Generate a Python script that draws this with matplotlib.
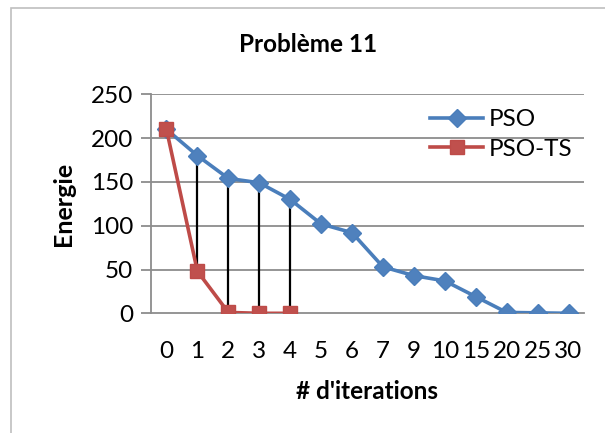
import matplotlib
matplotlib.use("Agg")
import matplotlib.pyplot as plt
from matplotlib.lines import Line2D
from matplotlib.patches import Rectangle

# Data
iterations = ["0", "1", "2", "3", "4", "5", "6", "7", "9", "10", "15", "20", "25", "30"]
pso = [210, 180, 154, 149, 130, 102, 92, 53, 43, 37, 19, 1, 0.5, 0]
pso_ts = [210, 48, 1, 0, 0]

plt.rcParams["font.family"] = ["Lato", "DejaVu Sans"]

W, H = 605, 433
fig = plt.figure(figsize=(W / 100, H / 100), dpi=100)

# chart area border
fig.patches.append(Rectangle((11 / W, -0.1), 1.2, (H - 8) / H + 0.1,
                             transform=fig.transFigure, fill=False,
                             edgecolor="#BFBFBF", linewidth=1.2))

left, right, top, bottom = 151, 584, 94.3, 313.3
ax = fig.add_axes([left / W, (H - bottom) / H, (right - left) / W, (bottom - top) / H])

blue = "#4A7EBB"
red = "#BE4B48"
grid = "#8C8C8C"

x_all = list(range(len(iterations)))
x_ts = x_all[:len(pso_ts)]

ax.set_xlim(-0.5, len(iterations) - 0.5)
ax.set_ylim(0, 250)
ax.set_yticks(range(0, 251, 50))
ax.set_xticks(x_all)
ax.set_xticklabels(iterations)

for y in range(50, 251, 50):
    ax.axhline(y, color=grid, linewidth=1.3, zorder=0)

# connectors between the two series
for xi in x_ts[1:]:
    ax.plot([xi, xi], [pso_ts[xi], pso[xi]], color="black", linewidth=1.6, zorder=2)

ax.plot(x_all, pso, color=blue, linewidth=2.6, marker="D", markersize=9.5,
        markerfacecolor="#4F81BD", markeredgecolor=blue, label="PSO", zorder=3)
ax.plot(x_ts, pso_ts, color=red, linewidth=2.6, marker="s", markersize=10,
        markerfacecolor="#C0504D", markeredgecolor=red, label="PSO-TS", zorder=4)

for s in ["top", "right"]:
    ax.spines[s].set_visible(False)
for s in ["left", "bottom"]:
    ax.spines[s].set_color(grid)
    ax.spines[s].set_linewidth(1.3)

ax.tick_params(axis="y", direction="out", length=7, width=1.3, color=grid,
               labelsize=17.5, pad=6)
ax.tick_params(axis="x", length=0, labelsize=17.5, pad=20)

ax.set_xlabel("# d'iterations", fontsize=17.5, fontweight="bold", labelpad=13)
ax.set_ylabel("Energie", fontsize=18, fontweight="bold", labelpad=11)
fig.text(0.5 * (11 + W) / W, (H - 44) / H, "Problème 11", ha="center", va="center",
         fontsize=17.5, fontweight="bold")

handles = [
    Line2D([], [], color=blue, linewidth=2.6, marker="D", markersize=9.5,
           markerfacecolor="#4F81BD", markeredgecolor=blue),
    Line2D([], [], color=red, linewidth=2.6, marker="s", markersize=10,
           markerfacecolor="#C0504D", markeredgecolor=red),
]
leg = ax.legend(handles, ["PSO", "PSO-TS"], loc="upper left",
                bbox_to_anchor=((430 - left) / (right - left), (bottom - 109) / (bottom - top)),
                frameon=False, fontsize=17.5, handlelength=2.2, handletextpad=0.2,
                labelspacing=0.35, borderaxespad=0, borderpad=0)

fig.savefig("out.png", dpi=100)
